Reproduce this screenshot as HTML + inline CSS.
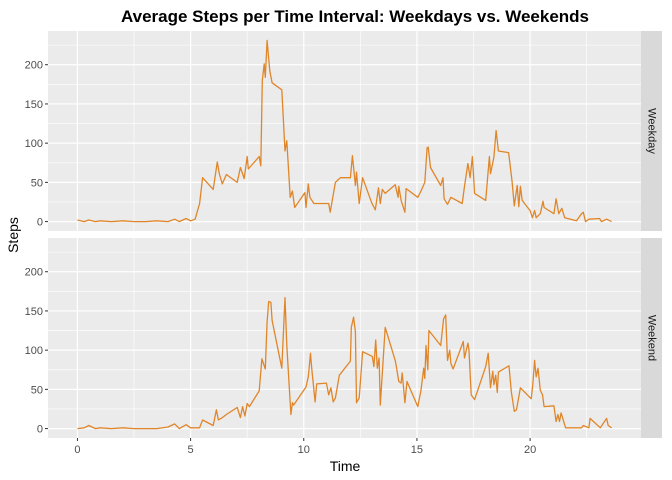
<!DOCTYPE html>
<html><head><meta charset="utf-8"><style>
body{margin:0;background:#fff}
svg{display:block;font-family:"Liberation Sans",sans-serif}
</style></head><body>
<svg id="chart" width="672" height="480">
<text x="355" y="22" text-anchor="middle" font-size="17" font-weight="bold" fill="#000">Average Steps per Time Interval: Weekdays vs. Weekends</text>
<text transform="translate(18,235) rotate(-90)" text-anchor="middle" font-size="14" fill="#000">Steps</text>
<text x="345" y="471" text-anchor="middle" font-size="14" fill="#000">Time</text>
</svg>
<script>
const xTicks=[0,5,10,15,20];
const yTicks=[0,50,100,150,200];
const panelNames=["Weekday","Weekend"];
const weekdayTime=[0,0.3,0.5,0.8,1.0,1.5,2.0,2.5,3.0,3.5,4.0,4.3,4.5,4.8,5.0,5.2,5.4,5.53,6.0,6.18,6.27,6.4,6.58,7.06,7.2,7.37,7.5,7.55,8.03,8.1,8.17,8.25,8.3,8.38,8.5,8.6,9.03,9.17,9.25,9.4,9.5,9.6,10.05,10.1,10.2,10.27,10.45,11.1,11.17,11.4,11.62,12.06,12.15,12.28,12.33,12.45,12.6,13.0,13.16,13.3,13.38,13.47,13.6,14.04,14.17,14.2,14.3,14.47,14.52,15.04,15.18,15.35,15.45,15.5,15.6,16.05,16.15,16.2,16.35,16.5,17.0,17.1,17.25,17.35,17.45,17.55,18.04,18.2,18.25,18.4,18.5,18.6,19.05,19.2,19.3,19.43,19.5,19.57,19.65,20.0,20.1,20.2,20.27,20.45,20.57,20.62,21.05,21.15,21.27,21.4,21.53,22.05,22.27,22.35,22.45,22.6,23.07,23.15,23.38,23.6];
const weekdayValues=[2,0,2,0,1,0,1,0,0,1,0,3,0,4,1,3,23,56,41,76,61,48,60,50,69,55,83,67,83,71,180,201,184,231,192,177,168,90,103,31,39,18,37,18,48,31,23,23,12,50,56,56,84,46,63,23,56,24,15,43,23,41,36,47,31,45,27,12,42,31,39,50,94,95,69,46,56,29,22,31,23,45,74,56,83,36,27,83,61,82,116,90,88,52,20,46,19,45,27,14,5,14,5,10,26,18,10,29,10,17,5,1,10,12,0,3,4,0,3,0];
const weekendTime=[0,0.3,0.5,0.8,1.0,1.5,2.0,2.5,3.0,3.5,4.0,4.3,4.5,4.8,5.0,5.4,5.53,6.0,6.14,6.23,6.4,6.58,7.06,7.2,7.3,7.4,7.5,7.6,8.03,8.15,8.3,8.38,8.45,8.55,8.6,9.03,9.17,9.25,9.43,9.5,9.55,10.1,10.2,10.3,10.35,10.5,10.57,11.0,11.1,11.2,11.3,11.4,11.57,12.06,12.1,12.2,12.28,12.33,12.45,12.6,13.03,13.1,13.18,13.25,13.33,13.38,13.6,14.04,14.08,14.2,14.3,14.35,14.47,14.56,15.04,15.18,15.3,15.35,15.4,15.48,15.53,16.05,16.18,16.27,16.35,16.45,16.5,16.6,17.05,17.1,17.25,17.3,17.4,17.55,18.04,18.15,18.25,18.35,18.4,18.48,18.55,18.6,19.07,19.17,19.3,19.4,19.57,20.05,20.12,20.2,20.27,20.35,20.45,20.55,20.62,21.05,21.15,21.23,21.3,21.37,21.57,22.27,22.35,22.6,22.65,23.1,23.38,23.45,23.6];
const weekendValues=[0,1,4,0,1,0,1,0,0,0,2,6,0,5,1,1,11,4,24,11,14,18,27,14,28,16,32,28,48,89,76,136,162,161,138,77,167,106,18,33,30,53,66,96,77,34,57,58,43,52,34,39,68,86,129,142,123,33,39,98,92,79,113,77,90,30,129,87,81,60,58,71,33,60,28,49,77,64,106,75,125,106,140,145,87,100,83,76,111,90,109,100,43,37,79,96,52,73,56,68,46,72,80,47,22,24,52,38,56,87,66,77,49,43,28,29,9,18,9,20,1,1,4,1,13,1,13,4,1];

const NS="http://www.w3.org/2000/svg";
const svg=document.getElementById('chart');
const PL=48,PR=641,XMIN=-1.3,XMAX=24.9;
function xs(v){return PL+(v-XMIN)/(XMAX-XMIN)*(PR-PL);}
const panels=[{top:31,bot:231,t:weekdayTime,v:weekdayValues},{top:238,bot:438,t:weekendTime,v:weekendValues}];
const YMIN=-12,YMAX=243;
function mk(tag,attrs){const e=document.createElementNS(NS,tag);for(const k in attrs)e.setAttribute(k,attrs[k]);svg.appendChild(e);return e;}
panels.forEach((p,i)=>{
  const ys=v=>p.bot-(v-YMIN)/(YMAX-YMIN)*(p.bot-p.top);
  const bg=mk('rect',{x:PL,y:p.top,width:PR-PL,height:p.bot-p.top,fill:'#EBEBEB'});
  
  
  for(let m=25;m<YMAX;m+=50){const g=mk('line',{x1:PL,x2:PR,y1:ys(m),y2:ys(m),stroke:'#fff','stroke-width':0.6});
    }
  for(let m=-2.5;m<XMAX;m+=5){if(m<XMIN)continue;const g=mk('line',{x1:xs(m),x2:xs(m),y1:p.top,y2:p.bot,stroke:'#fff','stroke-width':0.6});
    }
  yTicks.forEach(t=>{
    const g=mk('line',{x1:PL,x2:PR,y1:ys(t),y2:ys(t),stroke:'#fff','stroke-width':1.2});
    
    const tk=mk('line',{x1:PL-3,x2:PL,y1:ys(t),y2:ys(t),stroke:'#333','stroke-width':1});
    
    const lb=mk('text',{x:PL-5,y:ys(t)+4,'text-anchor':'end','font-size':11,fill:'#4D4D4D'});
    lb.textContent=t;
    
  });
  xTicks.forEach(t=>{
    const g=mk('line',{x1:xs(t),x2:xs(t),y1:p.top,y2:p.bot,stroke:'#fff','stroke-width':1.2});
    
  });
  let d='';p.t.forEach((t,j)=>{d+=(j?'L':'M')+xs(t).toFixed(1)+','+ys(p.v[j]).toFixed(1);});
  const ln=mk('path',{d:d,fill:'none',stroke:'#E0862A','stroke-width':1.3,'stroke-linejoin':'round'});
  
  
  const st=mk('rect',{x:PR,y:p.top,width:21,height:p.bot-p.top,fill:'#D9D9D9'});
  
  
  const cy=(p.top+p.bot)/2;
  const sl=mk('text',{x:PR+10.5,y:cy,'text-anchor':'middle','font-size':11,fill:'#1A1A1A',transform:`rotate(90 ${PR+10.5} ${cy})`,'dominant-baseline':'central'});
  sl.textContent=panelNames[i];
  
});
xTicks.forEach(t=>{
  const tk=mk('line',{x1:xs(t),x2:xs(t),y1:438,y2:441,stroke:'#333','stroke-width':1});
  
  const lb=mk('text',{x:xs(t),y:453,'text-anchor':'middle','font-size':11,fill:'#4D4D4D'});
  lb.textContent=t;
  
});
</script>
</body></html>
